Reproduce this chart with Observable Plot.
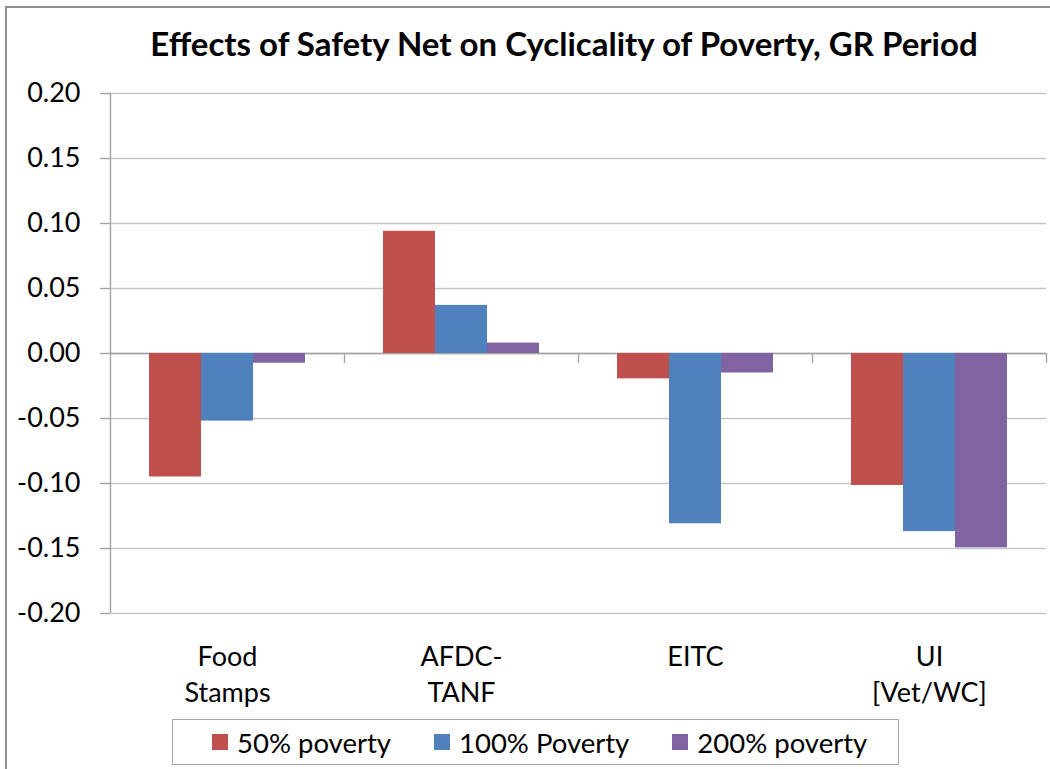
<!DOCTYPE html>
<html>
<head>
<meta charset="utf-8">
<script src="https://cdn.jsdelivr.net/npm/d3@7"></script>
<script src="https://cdn.jsdelivr.net/npm/@observablehq/plot@0.6"></script>
<style>
  html, body { margin: 0; padding: 0; background: #fff; }
  #chart { position: relative; width: 1050px; height: 769px; overflow: hidden;
           font-family: Lato, "Open Sans", sans-serif; color: #000; background: #fff; }
  #border { position: absolute; left: 5px; top: 6px; width: 1200px; height: 900px;
            border-left: 2px solid #8e8e8e; border-top: 2px solid #8e8e8e; }
  #title { position: absolute; left: 100px; width: 928px; top: 21px; text-align: center;
           font-weight: bold; font-size: 33px; line-height: 44px; white-space: nowrap; }
  #plot { position: absolute; left: 0; top: 70px; }
  #legend { position: absolute; left: 172px; top: 719px; width: 727px; height: 46px;
            border: 1px solid #a6a6a6; display: flex; align-items: center;
            box-sizing: border-box; padding-left: 39px; font-size: 27.5px; white-space: nowrap; }
  .item { display: flex; align-items: center; margin-right: 43px; white-space: nowrap; }
  .swatch { width: 16px; height: 16px; margin-right: 9px; flex: none; }
</style>
</head>
<body>
<div id="chart">
  <div id="border"></div>
  <div id="title">Effects of Safety Net on Cyclicality of Poverty, GR Period</div>
  <div id="plot"></div>
  <div id="legend"></div>
</div>
<script>
// Programs and their axis labels
const categories = ["Food Stamps", "AFDC-TANF", "EITC", "UI [Vet/WC]"];
const categoryLabels = ["Food\nStamps", "AFDC-\nTANF", "EITC", "UI\n[Vet/WC]"];

// Poverty thresholds (series) and their colours
const seriesNames = ["50% poverty", "100% Poverty", "200% poverty"];
const seriesColors = ["#C0504D", "#4F81BD", "#8064A2"];

// Effect estimates, one value per program
const poverty50 = [-0.095, 0.094, -0.0195, -0.1015];
const poverty100 = [-0.052, 0.037, -0.131, -0.137];
const poverty200 = [-0.0075, 0.008, -0.015, -0.1495];

// Value-axis ticks
const yTicks = [-0.20, -0.15, -0.10, -0.05, 0.00, 0.05, 0.10, 0.15, 0.20];

const seriesValues = [poverty50, poverty100, poverty200];
const rows = categories.flatMap((category, i) =>
  seriesValues.map((values, s) => ({category, series: seriesNames[s], s, value: values[i]}))
);

const width = 1050, height = 640;
const marginLeft = 110, marginRight = 4, marginTop = 23, marginBottom = 97;
const step = (width - marginLeft - marginRight) / categories.length;
const barW = (step * 2 / 3) / seriesNames.length;

const axisGray = "#a3a3a3";
const gridGray = "#c6c6c6";

const chart = Plot.plot({
  width, height, marginLeft, marginRight, marginTop, marginBottom,
  style: {fontFamily: "Lato, 'Open Sans', sans-serif", fontSize: "27px", color: "#000", background: "transparent", overflow: "visible"},
  x: {type: "band", domain: categories, paddingInner: 1 / 3, paddingOuter: 1 / 6, label: null},
  y: {domain: [-0.2, 0.2], label: null},
  marks: [
    Plot.gridY(yTicks, {stroke: gridGray, strokeOpacity: 1, strokeWidth: 1.4}),
    Plot.ruleY([0], {stroke: axisGray, strokeWidth: 1.4}),
    // value axis line on the left edge of the plot area
    Plot.ruleX([categories[0]], {x: d => d, dx: -step / 2, stroke: axisGray, strokeWidth: 1.4}),
    // category separators hanging below the zero line
    Plot.ruleX(categories, {x: d => d, dx: step / 2, y1: 0, y2: 0, insetTop: 10, stroke: axisGray, strokeWidth: 1.4}),
    ...seriesNames.map((name, s) =>
      Plot.barY(rows.filter(r => r.s === s), {
        x: "category", y1: 0, y2: "value", fill: seriesColors[s],
        insetLeft: s * barW, insetRight: (seriesNames.length - 1 - s) * barW
      })
    ),
    Plot.axisY(yTicks, {tickSize: 10, tickPadding: 20, stroke: axisGray, strokeWidth: 1.4, fill: "#000",
      tickFormat: d => d.toFixed(2), fontSize: 27, label: null}),
    Plot.axisX({tickSize: 0, tickPadding: 28, fill: "#000", fontSize: 27, lineHeight: 1.3, label: null,
      tickFormat: d => categoryLabels[categories.indexOf(d)]})
  ]
});
document.getElementById("plot").appendChild(chart);

// Legend
const legend = document.getElementById("legend");
seriesNames.forEach((name, s) => {
  const item = document.createElement("div");
  item.className = "item";
  const sw = document.createElement("div");
  sw.className = "swatch";
  sw.style.background = seriesColors[s];
  const label = document.createElement("span");
  label.textContent = name;
  item.append(sw, label);
  legend.appendChild(item);
});
</script>
</body>
</html>
